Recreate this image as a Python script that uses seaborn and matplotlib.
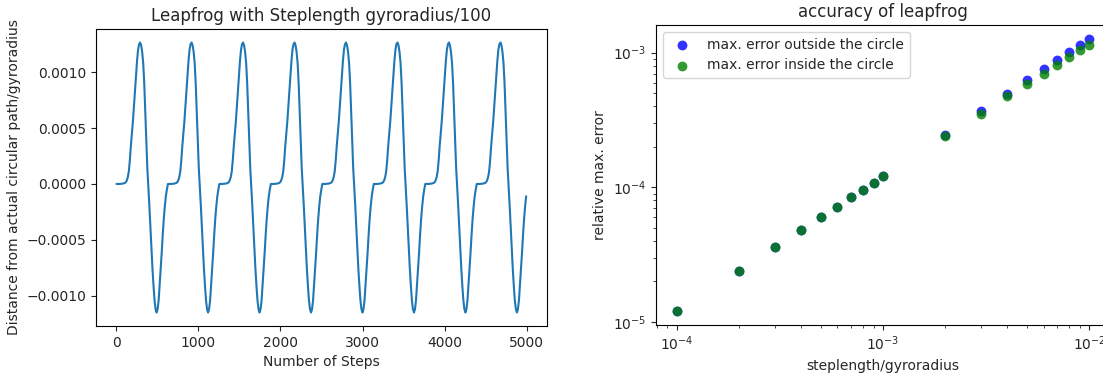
import numpy as np
import pandas as pd
import matplotlib
matplotlib.use("Agg")
import matplotlib.pyplot as plt
import seaborn as sns

# ---- data ----
# one oscillation cycle of the leapfrog deviation (units of 1e-3), sampled every ~12.55 steps
cycle_phase_step = 12.55
cycle_values_e3 = [0.000, 0.000, 0.000, 0.000, 0.001, 0.002, 0.003, 0.005, 0.008, 0.015,
                   0.030, 0.060, 0.110, 0.210, 0.340, 0.450, 0.560, 0.690, 0.830, 0.970,
                   1.100, 1.200, 1.250, 1.265, 1.240, 1.180, 1.080, 0.900, 0.640, 0.390,
                   0.140, -0.030, -0.200, -0.390, -0.580, -0.760, -0.910, -1.040, -1.120, -1.150,
                   -1.120, -1.040, -0.900, -0.760, -0.610, -0.450, -0.310, -0.200, -0.110, -0.050]
n_cycles = 8
last_step = 5000

steplength = [1e-4, 2e-4, 3e-4, 4e-4, 5e-4, 6e-4, 7e-4, 8e-4, 9e-4, 1e-3,
              2e-3, 3e-3, 4e-3, 5e-3, 6e-3, 7e-3, 8e-3, 9e-3, 1e-2]
err_outside = [1.20e-5, 2.41e-5, 3.60e-5, 4.82e-5, 6.00e-5, 7.20e-5, 8.45e-5, 9.62e-5, 1.08e-4, 1.21e-4,
               2.46e-4, 3.69e-4, 4.95e-4, 6.22e-4, 7.50e-4, 8.75e-4, 1.007e-3, 1.142e-3, 1.27e-3]
err_inside = [1.20e-5, 2.41e-5, 3.60e-5, 4.82e-5, 6.00e-5, 7.20e-5, 8.45e-5, 9.62e-5, 1.08e-4, 1.21e-4,
              2.40e-4, 3.53e-4, 4.74e-4, 5.88e-4, 6.97e-4, 8.16e-4, 9.24e-4, 1.038e-3, 1.148e-3]

# ---- build series ----
dev = np.tile(cycle_values_e3, n_cycles) * 1e-3
steps = np.arange(len(dev)) * cycle_phase_step
keep = steps <= last_step
df_line = pd.DataFrame({"steps": steps[keep], "dev": dev[keep]})

sns.set_style("ticks")
plt.rcParams["font.family"] = ["DejaVu Sans"]
plt.rcParams["axes.edgecolor"] = "black"

fig = plt.figure(figsize=(11.03, 3.74), dpi=100)
ax1 = fig.add_axes([0.0870, 0.1283, 0.4086, 0.7941])
ax2 = fig.add_axes([0.5947, 0.1310, 0.4116, 0.8021])

sns.lineplot(data=df_line, x="steps", y="dev", ax=ax1, color="#1f77b4", linewidth=1.5)
ax1.set_title("Leapfrog with Steplength gyroradius/100", fontsize=12)
ax1.set_xlabel("Number of Steps")
ax1.set_ylabel("Distance from actual circular path/gyroradius")

ax2.set_xscale("log")
ax2.set_yscale("log")
sns.scatterplot(x=steplength, y=err_outside, ax=ax2, color="b", alpha=0.8, s=50,
                linewidth=0, label="max. error outside the circle")
sns.scatterplot(x=steplength, y=err_inside, ax=ax2, color="g", alpha=0.8, s=50,
                linewidth=0, label="max. error inside the circle")
ax2.set_title("accuracy of leapfrog", fontsize=12)
ax2.set_xlabel("steplength/gyroradius")
ax2.set_ylabel("relative max. error")
ax2.legend(loc="upper left")

fig.savefig("out.png", dpi=100)
